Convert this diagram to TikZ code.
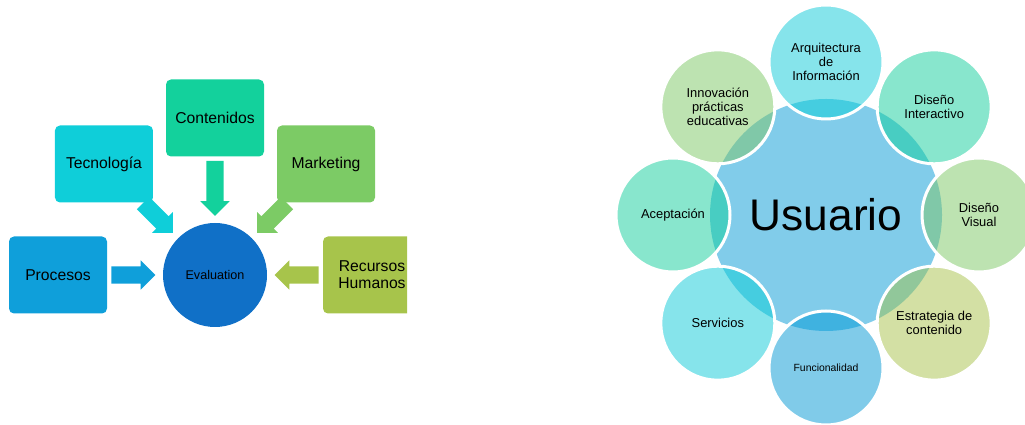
\documentclass[tikz,border=0pt]{standalone}
\usepackage{fontspec}
\setmainfont{Liberation Sans}
\usetikzlibrary{shapes.arrows,calc}

\definecolor{cProc}{HTML}{0F9FDA}
\definecolor{cTec}{HTML}{0FCED9}
\definecolor{cCont}{HTML}{13D19C}
\definecolor{cMark}{HTML}{7CCB65}
\definecolor{cRec}{HTML}{A7C44B}
\definecolor{cEval}{HTML}{1070C7}
\definecolor{cUsr}{HTML}{81CCEA}
\definecolor{cCyan}{HTML}{86E4EB}
\definecolor{oCyan}{HTML}{45CDE0}
\definecolor{cMint}{HTML}{88E6CD}
\definecolor{oMint}{HTML}{48CDC2}
\definecolor{cGreen}{HTML}{BDE3B1}
\definecolor{oGreen}{HTML}{80C8A8}
\definecolor{cOlive}{HTML}{D3E0A4}
\definecolor{oOlive}{HTML}{91C79A}
\definecolor{cBlue}{HTML}{80CBE9}
\definecolor{oBlue}{HTML}{3FB2E0}

\newcommand{\fboxtxt}{\fontsize{15.7}{17}\selectfont}
\newcommand{\fcirc}{\fontsize{12.9}{14}\selectfont}
\newcommand{\fsmall}{\fontsize{10.4}{12}\selectfont}

\begin{document}
\begin{tikzpicture}[x=1pt,y=1pt,align=center,
    box/.style={rounded corners=5pt, minimum width=98pt, minimum height=77pt, font=\fboxtxt},
    blockarrow/.style={single arrow, single arrow head extend=6pt, inner xsep=0pt, inner ysep=8.5pt},
    petal/.style={circle, minimum size=114pt, inner sep=0pt, font=\fcirc}]
    \useasboundingbox (0,0) rectangle (1025,425);

    % left diagram
    \begin{scope}
    \clip (0,0) rectangle (407,425);
    \node[circle, fill=cEval, minimum size=104pt, font=\fontsize{12.6}{14}\selectfont] (eval) at (215,150) {Evaluation};
    \node[box, fill=cProc] (proc) at ($(eval)+(180:157)$) {Procesos};
    \node[box, fill=cTec] (tec) at ($(eval)+(135:157)$) {Tecnología};
    \node[box, fill=cCont] (cont) at ($(eval)+(90:157)$) {Contenidos};
    \node[box, fill=cMark] (mark) at ($(eval)+(45:157)$) {Marketing};
    \node[box, fill=cRec] (rec) at ($(eval)+(0:157)$) {Recursos\\Humanos};
    \foreach \ang/\dist/\len/\col in {180/86/44/cProc, 135/85/42/cTec, 90/91/55/cCont, 45/85/42/cMark, 0/86/44/cRec}
        \node[blockarrow, fill=\col, minimum height=\len pt, rotate=\ang+180] at ($(eval)+(\ang:\dist)$) {};
    \end{scope}

    % right diagram
    \fill[cUsr] (826,210) circle (116);
    \node (usr) at (826,210) {\fontsize{44.3}{50}\selectfont Usuario};
    \foreach \ang/\nm/\fc/\oc/\txt in {
        90/arq/cCyan/oCyan/{Arquitectura\\de\\Información},
        45/dint/cMint/oMint/{Diseño\\Interactivo},
        0/dvis/cGreen/oGreen/{Diseño\\Visual},
        -45/estr/cOlive/oOlive/{Estrategia de\\contenido},
        -90/func/cBlue/oBlue/{\fsmall Funcionalidad},
        -135/serv/cCyan/oCyan/{Servicios},
        180/acep/cMint/oMint/{Aceptación},
        135/innov/cGreen/oGreen/{Innovación\\prácticas\\educativas}} {
        \node[petal, fill=\fc] (\nm) at ($(usr)+(\ang:153)$) {};
        \begin{scope}
        \clip (\nm.center) circle (57);
        \fill[\oc] (usr.center) circle (116);
        \end{scope}
        \draw[white, line width=3pt] (\nm.center) circle (57);
        \node[font=\fcirc] at (\nm) {\txt};
    }
\end{tikzpicture}
\end{document}
